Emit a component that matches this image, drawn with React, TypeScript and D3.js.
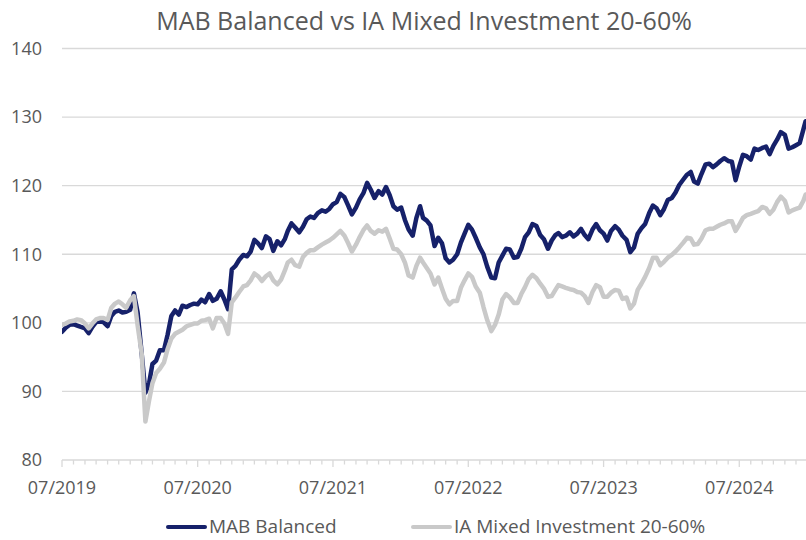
import * as d3 from 'd3'
import { useEffect, useRef } from 'react'

const title = 'MAB Balanced vs IA Mixed Investment 20-60%'
const seriesNames = ['MAB Balanced', 'IA Mixed Investment 20-60%']
const seriesColors = ['#16216a', '#c9c9c9']
const yTicks = [80, 90, 100, 110, 120, 130, 140]
const labelYears = [2019, 2020, 2021, 2022, 2023, 2024]

// samples on the 1st, 11th and 21st of each month from 07/2019, last one 27/12/2024
const sampleDates: Date[] = []
for (let m = 0; m < 66; m++) for (const d of [1, 11, 21]) sampleDates.push(new Date(2019, 6 + m, d))
sampleDates.push(new Date(2024, 11, 27))

const mab = [
  98.7, 99.3, 99.7, 99.8, 99.6, 99.4, 99.2, 98.5, 99.4, 100.1,
  100.2, 100.1, 99.5, 101.0, 101.6, 101.8, 101.5, 101.6, 101.9, 104.3,
  101.5, 95.5, 89.8, 91.2, 94.0, 94.5, 96.0, 96.0, 98.3, 101.0,
  101.8, 101.2, 102.5, 102.3, 102.6, 102.8, 102.7, 103.4, 103.0, 104.2,
  103.2, 103.5, 104.6, 103.4, 102.0, 107.8, 108.3, 109.2, 109.9, 109.7,
  110.4, 112.1, 111.6, 110.9, 112.6, 112.2, 110.5, 111.9, 111.3, 112.2,
  113.4, 114.5, 113.9, 113.2, 114.0, 115.1, 115.5, 115.3, 116.0, 116.4,
  116.2, 116.6, 117.3, 117.6, 118.8, 118.3, 117.1, 115.8, 116.8, 118.0,
  118.9, 120.4, 119.4, 118.2, 119.2, 118.7, 119.8, 118.6, 117.0, 116.5,
  116.8, 115.0, 113.6, 112.7, 115.3, 117.0, 115.3, 114.9, 114.2, 111.2,
  112.4, 111.6, 109.4, 108.8, 109.2, 110.0, 111.7, 113.0, 114.3, 113.6,
  112.4, 111.0, 110.0, 108.2, 106.6, 106.5, 108.8, 109.8, 110.8, 110.7,
  109.5, 109.6, 110.8, 112.5, 113.2, 114.4, 114.1, 112.8, 112.2, 110.8,
  112.0, 112.8, 113.1, 112.5, 112.7, 113.2, 112.6, 113.0, 113.7, 112.8,
  112.2, 113.6, 114.4, 113.5, 113.0, 112.0, 113.4, 114.1, 113.6, 112.7,
  112.1, 110.3, 111.0, 113.0, 113.8, 114.4, 116.0, 117.1, 116.7, 115.7,
  116.6, 117.9, 118.2, 119.0, 120.1, 120.9, 121.6, 122.0, 120.6, 120.3,
  121.7, 123.1, 123.2, 122.7, 123.1, 123.6, 124.0, 123.6, 123.5, 120.8,
  122.8, 124.5, 124.3, 123.8, 125.4, 125.2, 125.5, 125.7, 124.6, 125.8,
  126.7, 127.8, 127.4, 125.4, 125.6, 125.9, 126.2, 128.2, 129.4,
]

const ia = [
  99.7, 99.9, 100.2, 100.3, 100.5, 100.4, 99.9, 99.2, 99.9, 100.5,
  100.7, 100.7, 100.4, 102.2, 102.8, 103.1, 102.7, 102.2, 103.3, 103.9,
  99.6, 95.5, 85.6, 88.7, 91.2, 92.7, 93.3, 94.2, 96.2, 97.7,
  98.4, 98.7, 99.0, 99.5, 99.7, 99.9, 99.9, 100.3, 100.4, 100.6,
  99.2, 100.7, 100.7, 99.9, 98.4, 103.0, 103.7, 104.5, 105.3, 105.5,
  106.2, 107.2, 106.8, 106.1, 106.8, 107.2, 106.2, 105.6, 106.3, 107.6,
  108.8, 109.2, 108.4, 108.2, 109.6, 110.2, 110.6, 110.6, 111.0, 111.4,
  111.7, 112.0, 112.4, 112.9, 113.4, 112.7, 111.6, 110.4, 111.4, 112.5,
  113.5, 114.2, 113.4, 113.0, 113.5, 113.3, 113.7, 112.3, 110.8, 110.7,
  110.0, 108.8, 106.9, 106.6, 108.3, 109.5, 108.8, 108.0, 107.2, 105.6,
  106.6, 105.0, 103.5, 102.7, 103.2, 103.2, 105.1, 106.2, 107.2, 106.7,
  105.3, 104.4, 102.3, 100.4, 98.8, 99.7, 101.2, 103.4, 104.2, 103.7,
  102.9, 102.9, 104.2, 105.2, 106.4, 107.0, 106.5, 105.7, 105.0, 103.8,
  103.9, 104.8, 105.5, 105.3, 105.1, 104.9, 104.8, 104.5, 104.4, 103.9,
  102.9, 104.5, 105.5, 105.2, 103.8, 103.8, 104.4, 104.8, 104.7, 103.5,
  103.7, 102.1, 102.8, 104.8, 105.7, 106.7, 108.0, 109.5, 109.5, 108.4,
  108.9, 109.5, 109.9, 110.4, 111.0, 111.7, 112.4, 112.3, 111.4, 111.5,
  112.3, 113.5, 113.7, 113.7, 114.0, 114.3, 114.5, 114.8, 114.8, 113.4,
  114.3, 115.3, 115.7, 115.9, 116.1, 116.3, 116.9, 116.7, 115.9, 116.5,
  117.6, 118.4, 117.8, 116.1, 116.4, 116.6, 116.8, 117.8, 118.7,
]

const W = 806
const H = 540
const FONT = '"Open Sans", "DejaVu Sans", sans-serif'
const TEXT = '#595959'
const GRID = '#d9d9d9'

export default function App() {
  const ref = useRef<SVGSVGElement>(null)

  useEffect(() => {
    const svg = d3.select(ref.current)
    svg.selectAll('*').remove()

    const x = d3
      .scaleTime()
      .domain([new Date(2019, 6, 1), new Date(2024, 11, 28)])
      .range([62, 806])
    const y = d3.scaleLinear().domain([80, 140]).range([460, 48.5])

    // title
    svg
      .append('text')
      .attr('x', 424)
      .attr('y', 30)
      .attr('text-anchor', 'middle')
      .style('font-family', FONT)
      .style('font-size', '25px')
      .style('fill', TEXT)
      .text(title)

    // horizontal grid + y labels
    const gy = svg.append('g')
    gy.selectAll('line')
      .data(yTicks.filter((d) => d > 80))
      .join('line')
      .attr('x1', 62)
      .attr('x2', 806)
      .attr('y1', (d) => y(d))
      .attr('y2', (d) => y(d))
      .attr('stroke', GRID)
      .attr('stroke-width', 1.3)
    gy.selectAll('text')
      .data(yTicks)
      .join('text')
      .attr('x', 42)
      .attr('y', (d) => y(d))
      .attr('dy', '0.35em')
      .attr('text-anchor', 'end')
      .style('font-family', FONT)
      .style('font-size', '18px')
      .style('fill', TEXT)
      .text((d) => d)

    // x axis: month ticks, longer at each July
    const gx = svg.append('g')
    gx.append('line')
      .attr('x1', 62)
      .attr('x2', 806)
      .attr('y1', 460)
      .attr('y2', 460)
      .attr('stroke', GRID)
      .attr('stroke-width', 1.3)
    const months = d3.timeMonth.range(new Date(2019, 6, 1), new Date(2024, 11, 28))
    gx.selectAll('line.tick')
      .data(months)
      .join('line')
      .attr('class', 'tick')
      .attr('x1', (d) => x(d))
      .attr('x2', (d) => x(d))
      .attr('y1', 460)
      .attr('y2', (d) => (d.getMonth() === 6 ? 467 : 464.5))
      .attr('stroke', GRID)
      .attr('stroke-width', 1.3)
    const fmt = d3.timeFormat('%m/%Y')
    gx.selectAll('text')
      .data(labelYears.map((yr) => new Date(yr, 6, 1)))
      .join('text')
      .attr('x', (d) => x(d))
      .attr('y', 494)
      .attr('text-anchor', 'middle')
      .style('font-family', FONT)
      .style('font-size', '18px')
      .style('fill', TEXT)
      .text((d) => fmt(d))

    // lines
    svg
      .append('clipPath')
      .attr('id', 'plot')
      .append('rect')
      .attr('x', 62)
      .attr('y', 0)
      .attr('width', W - 62)
      .attr('height', 470)
    const line = d3
      .line<number>()
      .x((_, i) => x(sampleDates[i]))
      .y((d) => y(d))
    const gl = svg.append('g').attr('clip-path', 'url(#plot)')
    ;[mab, ia].forEach((vals, i) => {
      gl.append('path')
        .datum(vals)
        .attr('d', line)
        .attr('fill', 'none')
        .attr('stroke', seriesColors[i])
        .attr('stroke-width', 4.5)
        .attr('stroke-linejoin', 'round')
        .attr('stroke-linecap', 'round')
    })

    // legend
    const legendX = [168, 413]
    const lg = svg.append('g')
    seriesNames.forEach((name, i) => {
      lg.append('line')
        .attr('x1', legendX[i])
        .attr('x2', legendX[i] + 37)
        .attr('y1', 527)
        .attr('y2', 527)
        .attr('stroke', seriesColors[i])
        .attr('stroke-width', 4)
        .attr('stroke-linecap', 'round')
      lg.append('text')
        .attr('x', legendX[i] + 41)
        .attr('y', 533)
        .style('font-family', FONT)
        .style('font-size', '19px')
        .style('fill', TEXT)
        .text(name)
    })
  }, [])

  return (
    <div style={{ position: 'absolute', left: 0, top: 0 }}>
      <svg ref={ref} width={W} height={H} style={{ display: 'block', background: '#fff' }} />
    </div>
  )
}
